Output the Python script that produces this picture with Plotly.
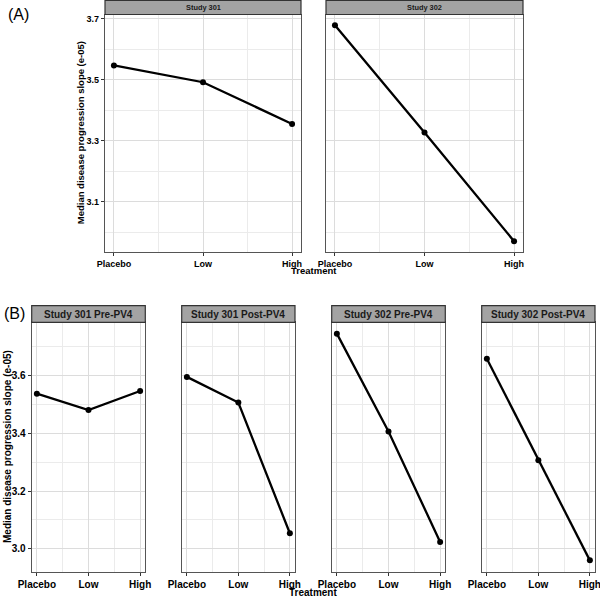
import plotly.graph_objects as go

# ---------------- data ----------------
treatments = ["Placebo", "Low", "High"]

studyA_names = ["Study 301", "Study 302"]
studyA_301 = [3.547, 3.492, 3.355]
studyA_302 = [3.679, 3.327, 2.970]

studyB_names = ["Study 301 Pre-PV4", "Study 301 Post-PV4", "Study 302 Pre-PV4", "Study 302 Post-PV4"]
studyB_301_pre = [3.538, 3.481, 3.547]
studyB_301_post = [3.596, 3.507, 3.054]
studyB_302_pre = [3.746, 3.407, 3.024]
studyB_302_post = [3.659, 3.307, 2.960]

ytitle = "Median disease progression slope (e-05)"
xtitle = "Treatment"

# ---------------- layout geometry (pixels) ----------------
W, H = 600, 597
FONT = "Liberation Sans, Arial, sans-serif"


def xd(a, b):
    return [a / W, b / W]


def yd(top, bottom):
    return [1 - bottom / H, 1 - top / H]


def expand(vals):
    lo, hi = min(vals), max(vals)
    e = (hi - lo) * 0.05
    return [lo - e, hi + e]


panelsA = [(105, 301), (326, 523)]
A_top, A_bot, A_strip_top = 14.5, 252, 0.5
panelsB = [(31.7, 145.3), (181.7, 295), (331.7, 445.3), (481.7, 595)]
B_top, B_bot, B_strip_top = 322.3, 571.7, 305.7

fig = go.Figure()
xi = list(range(1, len(treatments) + 1))

seriesA = [studyA_301, studyA_302]
seriesB = [studyB_301_pre, studyB_301_post, studyB_302_pre, studyB_302_post]

rangeA = expand(studyA_301 + studyA_302)
rangeB = expand(studyB_301_pre + studyB_301_post + studyB_302_pre + studyB_302_post)

layout = {}
shapes = []
annotations = []

GRID = "#dcdcdc"
MINOR = "#ebebeb"
BORDER = "#555555"


def add_panel(idx, xpx, top, bot, strip_top, ys, yrange, name, tickfs, stripfs, first, ytick0):
    ax = "" if idx == 1 else str(idx)
    fig.add_trace(go.Scatter(
        x=xi, y=ys, mode="lines+markers",
        line=dict(color="black", width=2.3),
        marker=dict(color="black", size=6),
        xaxis="x" + ax, yaxis="y" + ax, showlegend=False, hoverinfo="skip"))
    layout["xaxis" + ax] = dict(
        domain=xd(*xpx), anchor="y" + ax, range=[0.9, 3.1], automargin=False,
        tickmode="array", tickvals=xi, ticktext=treatments,
        ticks="outside", ticklen=3, tickcolor="#333333", tickwidth=1,
        ticklabeloverflow="allow",
        showgrid=True, gridcolor=GRID, gridwidth=1, zeroline=False,
        minor=dict(tickvals=[1.5, 2.5], showgrid=True, gridcolor=MINOR, gridwidth=1, ticks=""),
        showline=True, mirror=True, linecolor=BORDER, linewidth=1.2,
        tickfont=dict(family=FONT, size=tickfs, color="black", weight="bold"),
        fixedrange=True)
    layout["yaxis" + ax] = dict(
        domain=yd(top, bot), anchor="x" + ax, range=yrange, automargin=False,
        tickmode="linear", tick0=ytick0, dtick=0.2, tickformat=".1f",
        ticks="outside" if first else "", ticklen=3, tickcolor="#333333",
        showticklabels=first, ticklabeloverflow="allow",
        showgrid=True, gridcolor=GRID, gridwidth=1, zeroline=False,
        minor=dict(dtick=0.1, tick0=ytick0, showgrid=True, gridcolor=MINOR, gridwidth=1, ticks=""),
        showline=True, mirror=True, linecolor=BORDER, linewidth=1.2,
        tickfont=dict(family=FONT, size=tickfs, color="black", weight="bold"),
        fixedrange=True)
    shapes.append(dict(type="rect", xref="paper", yref="paper",
                       x0=xpx[0] / W, x1=xpx[1] / W,
                       y0=1 - top / H, y1=1 - strip_top / H,
                       fillcolor="#a3a3a3", line=dict(color="#333333", width=1.2), layer="above"))
    annotations.append(dict(xref="paper", yref="paper",
                            x=(xpx[0] + xpx[1]) / 2 / W, y=1 - (top + strip_top) / 2 / H,
                            text=name, showarrow=False, xanchor="center", yanchor="middle",
                            font=dict(family=FONT, size=stripfs, color="#1a1a1a", weight="bold")))


idx = 1
for k, (xpx, ys) in enumerate(zip(panelsA, seriesA)):
    add_panel(idx, xpx, A_top, A_bot, A_strip_top, ys, rangeA, studyA_names[k], 9, 7.4, k == 0, 3.1)
    idx += 1
for k, (xpx, ys) in enumerate(zip(panelsB, seriesB)):
    add_panel(idx, xpx, B_top, B_bot, B_strip_top, ys, rangeB, studyB_names[k], 10, 10, k == 0, 3.0)
    idx += 1

# axis titles
annotations += [
    dict(xref="paper", yref="paper", x=80 / W, y=1 - (A_top + A_bot) / 2 / H, text=ytitle,
         textangle=-90, showarrow=False, xanchor="center", yanchor="middle",
         font=dict(family=FONT, size=9.5, color="black", weight="bold")),
    dict(xref="paper", yref="paper", x=314 / W, y=1 - 270.5 / H, text=xtitle,
         showarrow=False, xanchor="center", yanchor="middle",
         font=dict(family=FONT, size=9.5, color="black", weight="bold")),
    dict(xref="paper", yref="paper", x=7 / W, y=1 - (B_top + B_bot) / 2 / H, text=ytitle,
         textangle=-90, showarrow=False, xanchor="center", yanchor="middle",
         font=dict(family=FONT, size=10, color="black", weight="bold")),
    dict(xref="paper", yref="paper", x=313 / W, y=1 - 592 / H, text=xtitle,
         showarrow=False, xanchor="center", yanchor="middle",
         font=dict(family=FONT, size=10, color="black", weight="bold")),
    dict(xref="paper", yref="paper", x=6 / W, y=1 - 15 / H, text="(A)",
         showarrow=False, xanchor="left", yanchor="middle",
         font=dict(family=FONT, size=16, color="black")),
    dict(xref="paper", yref="paper", x=2 / W, y=1 - 313 / H, text="(B)",
         showarrow=False, xanchor="left", yanchor="middle",
         font=dict(family=FONT, size=16, color="black")),
]

fig.update_layout(width=W, height=H, margin=dict(l=0, r=0, t=0, b=0), autosize=False,
                  plot_bgcolor="white", paper_bgcolor="white",
                  shapes=shapes, annotations=annotations, **layout)
fig.write_html("out.html", config={"displayModeBar": False},
               post_script="document.body.style.margin='0';document.body.style.padding='0';")
